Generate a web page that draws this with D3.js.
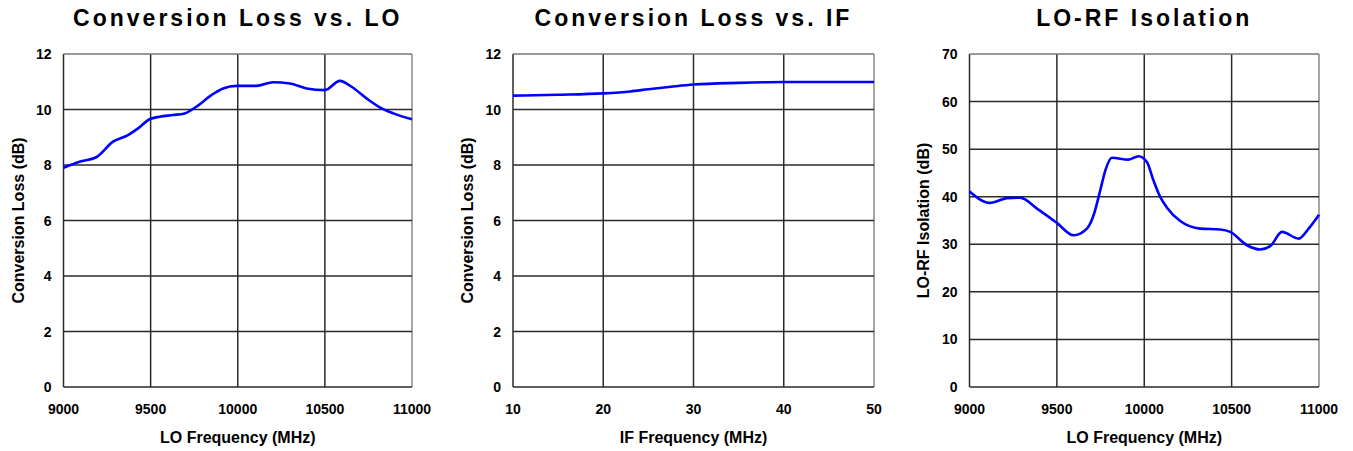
<!DOCTYPE html>
<html lang="en">
<head>
<meta charset="UTF-8" />
<title>Mixer Performance Charts</title>
<script src="https://d3js.org/d3.v7.min.js"></script>
<style>
  body { margin: 0; background: #fff; font-family: Arial, "Liberation Sans", sans-serif; }
  svg text { font-family: Arial, "Liberation Sans", sans-serif; font-weight: bold; fill: #000; }
</style>
</head>
<body>
<svg id="chart" width="1353" height="451"></svg>
<script>
// Conversion loss vs LO frequency
const loFreq = [9000, 9092, 9188, 9284, 9370, 9428, 9494, 9552, 9628, 9695, 9762, 9849, 9916, 9993,
  10107, 10203, 10299, 10395, 10500, 10586, 10653, 10739, 10826, 10893, 11000];
const loLoss = [7.90, 8.12, 8.28, 8.84, 9.08, 9.32, 9.65, 9.74, 9.80, 9.86, 10.10, 10.52, 10.76, 10.85,
  10.85, 10.98, 10.94, 10.76, 10.70, 11.03, 10.82, 10.40, 10.04, 9.86, 9.65];

// Conversion loss vs IF frequency
const ifFreq = [10, 15, 20, 23, 25, 27.5, 30, 35, 40, 45, 50];
const ifLoss = [10.50, 10.53, 10.58, 10.65, 10.73, 10.82, 10.90, 10.96, 10.99, 10.99, 10.99];

// LO-RF isolation
const isoFreq = [9000, 9118, 9214, 9290, 9386, 9500, 9595, 9672, 9710, 9748, 9777, 9815, 9910, 9967,
  10015, 10053, 10092, 10130, 10206, 10321, 10435, 10492, 10588, 10664, 10721, 10788, 10884, 10941, 11000];
const isoVal = [41.1, 38.7, 39.7, 39.8, 37.5, 34.5, 31.9, 33.3, 36.1, 41.3, 45.5, 48.2, 47.8, 48.5,
  47.3, 43.4, 39.9, 37.7, 34.9, 33.3, 33.1, 32.6, 29.8, 28.9, 29.6, 32.6, 31.2, 33.3, 36.2];

const loTicks = [9000, 9500, 10000, 10500, 11000];
const ifTicks = [10, 20, 30, 40, 50];
const lossTicks = [0, 2, 4, 6, 8, 10, 12];
const isoTicks = [0, 10, 20, 30, 40, 50, 60, 70];

const svg = d3.select("#chart");

function drawPanel(opts) {
  const x = d3.scaleLinear().domain(opts.xDomain).range([opts.left, opts.right]);
  const y = d3.scaleLinear().domain(opts.yDomain).range([387, 54]);
  const g = svg.append("g");

  // grid
  g.selectAll("line.vg").data(opts.xTicks).enter().append("line")
    .attr("x1", d => x(d)).attr("x2", d => x(d))
    .attr("y1", y.range()[0]).attr("y2", y.range()[1])
    .attr("stroke", (d, i) => i === opts.xTicks.length - 1 ? "#888" : "#2a2a2a")
    .attr("stroke-width", 1.5);
  g.selectAll("line.hg").data(opts.yTicks).enter().append("line")
    .attr("x1", opts.left).attr("x2", opts.right)
    .attr("y1", d => y(d)).attr("y2", d => y(d))
    .attr("stroke", (d, i) => i === opts.yTicks.length - 1 ? "#777" : "#2a2a2a")
    .attr("stroke-width", 1.5);

  // tick labels
  g.selectAll("text.xt").data(opts.xTicks).enter().append("text")
    .attr("x", d => x(d)).attr("y", 414)
    .attr("text-anchor", "middle").attr("font-size", 14)
    .text(d => d);
  g.selectAll("text.yt").data(opts.yTicks).enter().append("text")
    .attr("x", opts.left - 12).attr("y", d => y(d) + 5)
    .attr("text-anchor", "end").attr("font-size", 14)
    .text(d => d);

  // titles
  g.append("text").attr("x", (opts.left + opts.right) / 2).attr("y", 26)
    .attr("text-anchor", "middle").attr("font-size", 23)
    .attr("letter-spacing", 3).text(opts.title);
  g.append("text").attr("x", (opts.left + opts.right) / 2).attr("y", 443)
    .attr("text-anchor", "middle").attr("font-size", 16).text(opts.xLabel);
  g.append("text")
    .attr("transform", `translate(${opts.yLabelX},${(387 + 54) / 2}) rotate(-90)`)
    .attr("text-anchor", "middle").attr("font-size", 16).text(opts.yLabel);

  // curve
  const pts = opts.xs.map((v, i) => [v, opts.ys[i]]);
  g.append("path").datum(pts)
    .attr("fill", "none").attr("stroke", "#0000ff").attr("stroke-width", 2.6)
    .attr("d", d3.line().x(d => x(d[0])).y(d => y(d[1])).curve(d3.curveMonotoneX));
}

drawPanel({
  left: 63.5, right: 412, xDomain: [9000, 11000], yDomain: [0, 12],
  xTicks: loTicks, yTicks: lossTicks, xs: loFreq, ys: loLoss,
  title: "Conversion Loss vs. LO", xLabel: "LO Frequency (MHz)",
  yLabel: "Conversion Loss (dB)", yLabelX: 24
});
drawPanel({
  left: 513, right: 874, xDomain: [10, 50], yDomain: [0, 12],
  xTicks: ifTicks, yTicks: lossTicks, xs: ifFreq, ys: ifLoss,
  title: "Conversion Loss vs. IF", xLabel: "IF Frequency (MHz)",
  yLabel: "Conversion Loss (dB)", yLabelX: 473
});
drawPanel({
  left: 969.5, right: 1319, xDomain: [9000, 11000], yDomain: [0, 70],
  xTicks: loTicks, yTicks: isoTicks, xs: isoFreq, ys: isoVal,
  title: "LO-RF Isolation", xLabel: "LO Frequency (MHz)",
  yLabel: "LO-RF Isolation (dB)", yLabelX: 929
});
</script>
</body>
</html>
